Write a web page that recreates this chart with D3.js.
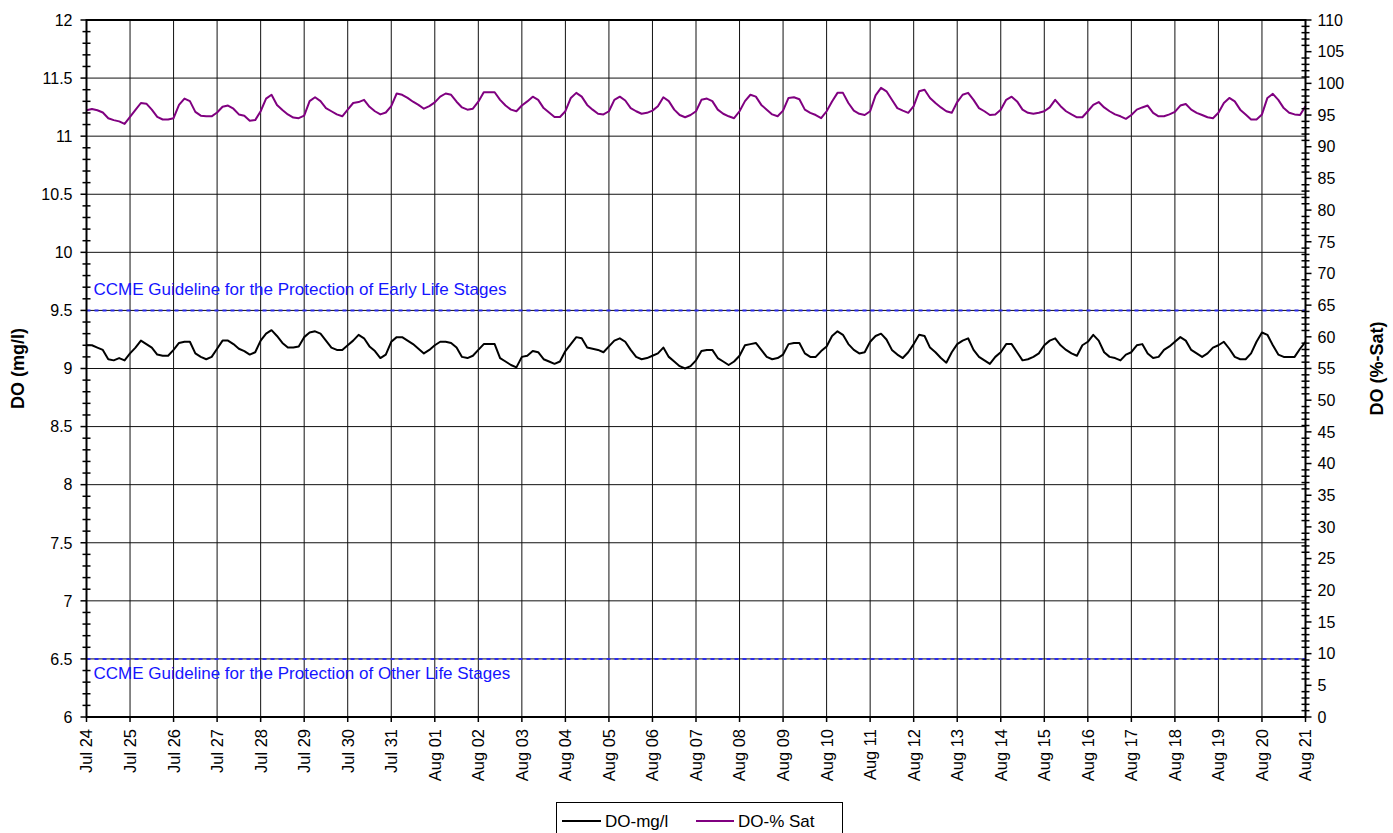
<!DOCTYPE html>
<html>
<head>
<meta charset="utf-8">
<script src="https://cdn.jsdelivr.net/npm/d3@7"></script>
<style>
  html, body { margin: 0; padding: 0; background: #fff; }
  svg { display: block; font-family: Arial, "Liberation Sans", sans-serif; }
</style>
</head>
<body>
<svg id="chart" width="1393" height="833"></svg>
<script>
// Logger record: Jul 24 – Aug 21, one reading every 3 hours
const startDate = new Date(2012, 6, 24);
const endDate = new Date(2012, 7, 21);
const stepHours = 3;

// Dissolved oxygen, mg/l (left axis)
const doMgL = [
  9.20, 9.20, 9.18, 9.16, 9.08, 9.07, 9.09, 9.07,
  9.13, 9.18, 9.24, 9.21, 9.18, 9.12, 9.11, 9.11,
  9.16, 9.22, 9.23, 9.23, 9.13, 9.10, 9.08, 9.10,
  9.17, 9.24, 9.24, 9.21, 9.17, 9.15, 9.12, 9.14,
  9.24, 9.30, 9.33, 9.28, 9.22, 9.18, 9.18, 9.19,
  9.27, 9.31, 9.32, 9.30, 9.24, 9.18, 9.16, 9.16,
  9.20, 9.24, 9.29, 9.26, 9.19, 9.15, 9.09, 9.12,
  9.23, 9.27, 9.27, 9.24, 9.21, 9.17, 9.13, 9.16,
  9.20, 9.23, 9.23, 9.22, 9.18, 9.10, 9.09, 9.11,
  9.16, 9.21, 9.21, 9.21, 9.09, 9.06, 9.03, 9.01,
  9.10, 9.11, 9.15, 9.14, 9.08, 9.06, 9.04, 9.06,
  9.15, 9.21, 9.27, 9.26, 9.18, 9.17, 9.16, 9.14,
  9.19, 9.24, 9.26, 9.23, 9.16, 9.10, 9.08, 9.09,
  9.11, 9.13, 9.18, 9.10, 9.06, 9.02, 9.00, 9.02,
  9.07, 9.15, 9.16, 9.16, 9.09, 9.06, 9.03, 9.06,
  9.11, 9.20, 9.21, 9.22, 9.16, 9.10, 9.08, 9.09,
  9.12, 9.21, 9.22, 9.22, 9.13, 9.10, 9.10, 9.15,
  9.19, 9.28, 9.32, 9.29, 9.21, 9.16, 9.13, 9.14,
  9.23, 9.28, 9.30, 9.25, 9.16, 9.12, 9.09, 9.14,
  9.21, 9.29, 9.28, 9.18, 9.14, 9.09, 9.05, 9.14,
  9.21, 9.24, 9.26, 9.16, 9.10, 9.07, 9.04, 9.10,
  9.14, 9.21, 9.21, 9.14, 9.07, 9.08, 9.10, 9.13,
  9.20, 9.24, 9.26, 9.20, 9.16, 9.13, 9.11, 9.20,
  9.23, 9.29, 9.24, 9.14, 9.10, 9.09, 9.07, 9.12,
  9.14, 9.20, 9.21, 9.13, 9.09, 9.10, 9.16, 9.19,
  9.23, 9.27, 9.24, 9.16, 9.13, 9.10, 9.13, 9.18,
  9.20, 9.23, 9.17, 9.10, 9.08, 9.08, 9.13, 9.23,
  9.31, 9.29, 9.20, 9.12, 9.10, 9.10, 9.10, 9.17,
  9.23
];

// Dissolved oxygen, % saturation (right axis)
const doSat = [
  95.75, 95.96, 95.75, 95.40, 94.50, 94.20, 94.00, 93.60,
  94.70, 95.80, 96.90, 96.80, 95.85, 94.70, 94.30, 94.30,
  94.50, 96.60, 97.60, 97.20, 95.50, 94.90, 94.80, 94.80,
  95.40, 96.30, 96.50, 96.00, 95.10, 94.90, 94.10, 94.20,
  95.60, 97.60, 98.20, 96.60, 95.80, 95.10, 94.60, 94.50,
  94.90, 97.20, 97.80, 97.20, 96.10, 95.60, 95.10, 94.80,
  95.85, 96.90, 97.05, 97.40, 96.30, 95.60, 95.10, 95.40,
  96.40, 98.40, 98.20, 97.70, 97.10, 96.60, 96.00, 96.40,
  97.00, 97.90, 98.40, 98.20, 97.10, 96.20, 95.85, 96.00,
  97.10, 98.60, 98.60, 98.60, 97.40, 96.50, 95.85, 95.60,
  96.50, 97.15, 97.90, 97.40, 96.10, 95.40, 94.70, 94.70,
  95.60, 97.70, 98.50, 97.90, 96.60, 95.85, 95.20, 95.10,
  95.60, 97.40, 97.90, 97.30, 96.10, 95.60, 95.20, 95.35,
  95.70, 96.40, 97.80, 97.20, 95.85, 95.00, 94.65, 95.00,
  95.60, 97.40, 97.60, 97.20, 95.85, 95.20, 94.80, 94.50,
  95.60, 97.20, 98.20, 97.90, 96.60, 95.85, 95.10, 94.80,
  95.70, 97.70, 97.80, 97.50, 95.85, 95.35, 95.00, 94.50,
  95.60, 97.15, 98.50, 98.50, 96.90, 95.70, 95.20, 95.00,
  95.60, 98.10, 99.30, 98.75, 97.40, 96.10, 95.70, 95.35,
  96.40, 98.75, 99.00, 97.70, 96.90, 96.20, 95.60, 95.35,
  97.05, 98.20, 98.50, 97.40, 96.10, 95.60, 95.00, 95.10,
  95.85, 97.40, 97.90, 97.15, 95.85, 95.35, 95.20, 95.35,
  95.60, 96.20, 97.40, 96.40, 95.60, 95.10, 94.65, 94.65,
  95.60, 96.60, 97.05, 96.20, 95.60, 95.10, 94.80, 94.40,
  95.00, 95.85, 96.20, 96.50, 95.35, 94.80, 94.80, 95.10,
  95.50, 96.50, 96.75, 95.85, 95.35, 95.00, 94.65, 94.50,
  95.35, 96.90, 97.70, 97.15, 95.85, 95.10, 94.30, 94.30,
  95.10, 97.70, 98.35, 97.40, 96.10, 95.35, 95.10, 95.00,
  96.40
];

// Axis ticks
const leftTicks = [6, 6.5, 7, 7.5, 8, 8.5, 9, 9.5, 10, 10.5, 11, 11.5, 12];
const rightTicks = [0, 5, 10, 15, 20, 25, 30, 35, 40, 45, 50, 55, 60, 65, 70, 75, 80, 85, 90, 95, 100, 105, 110];

// Guideline thresholds (mg/l) and their captions
const guidelineValues = [9.5, 6.5];
const guidelineLabels = [
  "CCME Guideline for the Protection of Early Life Stages",
  "CCME Guideline for the Protection of Other Life Stages"
];

const seriesNames = ["DO-mg/l", "DO-% Sat"];
const seriesColors = ["#000000", "#800080"];

// ---- layout ----
const plot = { left: 86.5, right: 1305.5, top: 20, bottom: 717 };
const svg = d3.select("#chart");

const x = d3.scaleTime().domain([startDate, endDate]).range([plot.left, plot.right]);
const yL = d3.scaleLinear().domain([6, 12]).range([plot.bottom, plot.top]);
const yR = d3.scaleLinear().domain([0, 110]).range([plot.bottom, plot.top]);

const times = doMgL.map((_, i) => d3.timeHour.offset(startDate, i * stepHours));
const days = d3.timeDay.range(startDate, d3.timeDay.offset(endDate, 1));

// gridlines
const grid = svg.append("g");
grid.selectAll("line.h").data(leftTicks).join("line")
  .attr("x1", plot.left).attr("x2", plot.right)
  .attr("y1", d => yL(d)).attr("y2", d => yL(d))
  .attr("stroke", "#111").attr("stroke-width", 1);
grid.selectAll("line.v").data(days).join("line")
  .attr("x1", d => x(d)).attr("x2", d => x(d))
  .attr("y1", plot.top).attr("y2", plot.bottom)
  .attr("stroke", "#111").attr("stroke-width", 1);

// guideline lines and captions
const gl = svg.append("g");
gl.selectAll("line").data(guidelineValues).join("line")
  .attr("x1", plot.left).attr("x2", plot.right)
  .attr("y1", d => yL(d)).attr("y2", d => yL(d))
  .attr("stroke", "#2b2bee").attr("stroke-width", 2)
  .attr("stroke-dasharray", "4,4");
gl.selectAll("text").data(guidelineValues).join("text")
  .attr("x", plot.left + 7)
  .attr("y", (d, i) => yL(d) + (i === 0 ? -15 : 20))
  .attr("fill", "#1515ff")
  .attr("font-size", 17)
  .text((d, i) => guidelineLabels[i]);

// data lines
const lineL = d3.line().x((d, i) => x(times[i])).y(d => yL(d));
const lineR = d3.line().x((d, i) => x(times[i])).y(d => yR(d));
svg.append("path").datum(doMgL).attr("d", lineL)
  .attr("fill", "none").attr("stroke", seriesColors[0]).attr("stroke-width", 2)
  .attr("stroke-linejoin", "round");
svg.append("path").datum(doSat).attr("d", lineR)
  .attr("fill", "none").attr("stroke", seriesColors[1]).attr("stroke-width", 2)
  .attr("stroke-linejoin", "round");

// frame
const frame = svg.append("g").attr("stroke", "#000").attr("stroke-width", 2);
frame.append("line").attr("x1", plot.left).attr("x2", plot.right).attr("y1", plot.top).attr("y2", plot.top);
frame.append("line").attr("x1", plot.left).attr("x2", plot.right).attr("y1", plot.bottom).attr("y2", plot.bottom);
frame.append("line").attr("x1", plot.left).attr("x2", plot.left).attr("y1", plot.top - 1).attr("y2", plot.bottom + 1);
frame.append("line").attr("x1", plot.right).attr("x2", plot.right).attr("y1", plot.top - 1).attr("y2", plot.bottom + 1);

// left axis ticks
const axL = svg.append("g").attr("stroke", "#000").attr("stroke-width", 1.5);
axL.selectAll("line.major").data(leftTicks).join("line")
  .attr("x1", plot.left - 6).attr("x2", plot.left)
  .attr("y1", d => yL(d)).attr("y2", d => yL(d));
const leftMinor = d3.range(60, 121).map(v => v / 10).filter(v => !leftTicks.includes(v));
axL.selectAll("line.minor").data(leftMinor).join("line")
  .attr("x1", plot.left - 4).attr("x2", plot.left + 4)
  .attr("y1", d => yL(d)).attr("y2", d => yL(d));
svg.append("g").selectAll("text").data(leftTicks).join("text")
  .attr("x", plot.left - 14).attr("y", d => yL(d)).attr("dy", "0.36em")
  .attr("text-anchor", "end").attr("font-size", 16).attr("fill", "#000")
  .text(d => d);

// right axis ticks
const axR = svg.append("g").attr("stroke", "#000").attr("stroke-width", 1.5);
axR.selectAll("line.major").data(rightTicks).join("line")
  .attr("x1", plot.right).attr("x2", plot.right + 6)
  .attr("y1", d => yR(d)).attr("y2", d => yR(d));
const rightMinor = d3.range(0, 111).filter(v => !rightTicks.includes(v));
axR.selectAll("line.minor").data(rightMinor).join("line")
  .attr("x1", plot.right - 4).attr("x2", plot.right + 4)
  .attr("y1", d => yR(d)).attr("y2", d => yR(d));
svg.append("g").selectAll("text").data(rightTicks).join("text")
  .attr("x", plot.right + 12).attr("y", d => yR(d)).attr("dy", "0.36em")
  .attr("text-anchor", "start").attr("font-size", 16).attr("fill", "#000")
  .text(d => d);

// bottom axis ticks + rotated date labels
const fmt = d3.timeFormat("%b %d");
svg.append("g").attr("stroke", "#000").attr("stroke-width", 1.5)
  .selectAll("line").data(days).join("line")
  .attr("x1", d => x(d)).attr("x2", d => x(d))
  .attr("y1", plot.bottom).attr("y2", plot.bottom + 5);
svg.append("g").selectAll("text").data(days).join("text")
  .attr("transform", d => `translate(${x(d)},${plot.bottom + 12}) rotate(-90)`)
  .attr("dy", "0.36em").attr("text-anchor", "end")
  .attr("font-size", 16.5).attr("fill", "#000")
  .text(d => fmt(d));

// axis titles
svg.append("text")
  .attr("transform", `translate(24,${(plot.top + plot.bottom) / 2}) rotate(-90)`)
  .attr("text-anchor", "middle").attr("font-size", 18).attr("font-weight", "bold")
  .text("DO (mg/l)");
svg.append("text")
  .attr("transform", `translate(1383,${(plot.top + plot.bottom) / 2}) rotate(-90)`)
  .attr("text-anchor", "middle").attr("font-size", 18).attr("font-weight", "bold")
  .text("DO (%-Sat)");

// legend
const lg = svg.append("g");
lg.append("rect").attr("x", 556.5).attr("y", 802.5).attr("width", 286).attr("height", 40)
  .attr("fill", "#fff").attr("stroke", "#000").attr("stroke-width", 1);
const legendItems = [
  { x1: 562, x2: 601, tx: 605 },
  { x1: 696, x2: 734, tx: 738 }
];
legendItems.forEach((it, i) => {
  lg.append("line").attr("x1", it.x1).attr("x2", it.x2).attr("y1", 821).attr("y2", 821)
    .attr("stroke", seriesColors[i]).attr("stroke-width", 2);
  lg.append("text").attr("x", it.tx).attr("y", 821).attr("dy", "0.36em")
    .attr("font-size", 17).attr("fill", "#000").text(seriesNames[i]);
});
</script>
</body>
</html>
